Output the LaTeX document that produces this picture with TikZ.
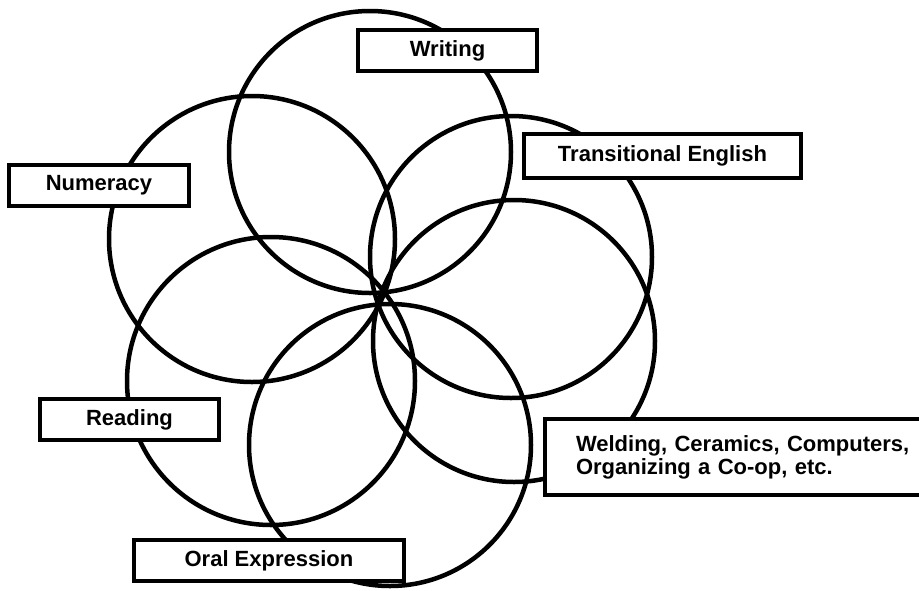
\documentclass[tikz,border=0pt]{standalone}
\usepackage{fontspec}
\setmainfont{Liberation Sans}
\begin{document}
\begin{tikzpicture}[x=1pt,y=-1pt,
  ring/.style={line width=4.5pt},
  lbl/.style={draw, line width=4pt, fill=white, inner sep=0pt,
    font=\fontsize{22}{23}\selectfont\bfseries}]
\path[use as bounding box] (0,0) rectangle (919,590);
\begin{scope}
\clip (0,0) rectangle (919,590);
% circles
\draw[ring] (370,152) circle[radius=141];
\draw[ring] (511,257) circle[radius=141];
\draw[ring] (514,341) circle[radius=141];
\draw[ring] (390,445) circle[radius=141];
\draw[ring] (271,381) circle[radius=144];
\draw[ring] (252,239) circle[radius=143];
% labels
\node[lbl, minimum width=179pt, minimum height=41pt] (writing) at (447.5,50.5) {Writing};
\node[lbl, minimum width=277pt, minimum height=44pt] (trans) at (662.5,156) {Transitional English};
\node[lbl, minimum width=180pt, minimum height=41pt] (num) at (99,185.5) {Numeracy};
\node[lbl, minimum width=179pt, minimum height=41pt] (read) at (129.5,419.5) {Reading};
\node[lbl, minimum width=270pt, minimum height=41pt] (oral) at (269,560.5) {Oral Expression};
\node[lbl, anchor=west, text width=360pt, align=left, inner xsep=31pt, minimum height=76pt] (weld) at (543,457) {Welding, Ceramics, Computers,\\Organizing a Co-op, etc.};
\end{scope}
\end{tikzpicture}
\end{document}
